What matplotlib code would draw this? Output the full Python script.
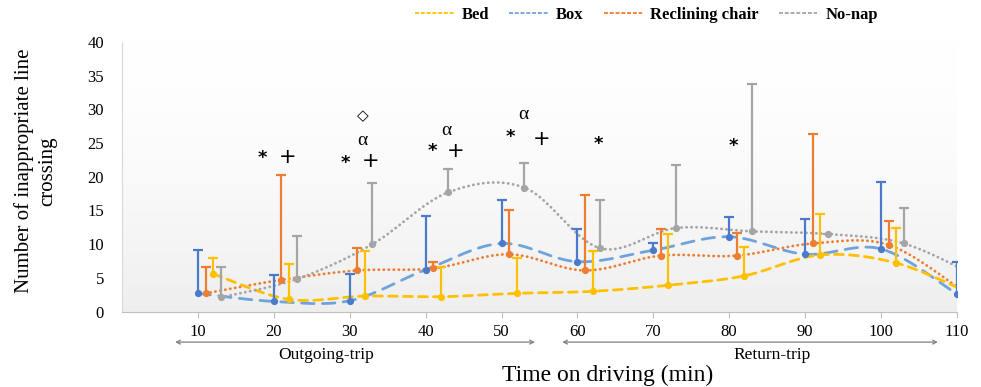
import numpy as np
import matplotlib
matplotlib.use('Agg')
import matplotlib.pyplot as plt
from matplotlib.lines import Line2D

plt.rcParams['font.family'] = ['Liberation Serif', 'DejaVu Sans']

# time points (min) and per-group horizontal offsets
times = [10, 20, 30, 40, 50, 60, 70, 80, 90, 100, 110]
labels = ['Bed', 'Box', 'Reclining chair', 'No-nap']
offsets = {'Box': 0, 'Reclining chair': 1, 'Bed': 2, 'No-nap': 3}

# mean values
box_mean = [2.7, 1.5, 1.6, 6.2, 10.1, 7.4, 9.1, 11.1, 8.5, 9.3, 2.6]
recl_mean = [2.7, 4.7, 6.1, 6.4, 8.5, 6.1, 8.3, 8.3, 10.1, 9.9, 2.9]
bed_mean = [5.6, 1.8, 2.3, 2.2, 2.7, 3.0, 3.9, 5.3, 8.4, 7.2, 2.6]
nonap_mean = [2.1, 4.8, 10.0, 17.7, 18.4, 9.4, 12.4, 11.9, 11.5, 10.1, 5.0]

# upper error (SD)
box_err = [6.4, 3.9, 3.9, 8.0, 6.5, 4.8, 1.0, 2.9, 5.2, 9.9, 4.8]
recl_err = [3.9, 15.5, 3.4, 0.9, 6.6, 11.2, 4.0, 3.4, 16.2, 3.6, 0.0]
bed_err = [2.4, 5.2, 6.7, 4.4, 5.3, 6.0, 7.6, 4.3, 6.1, 5.2, 0.0]
nonap_err = [4.5, 6.4, 9.1, 3.5, 3.6, 7.2, 9.4, 21.8, 0.0, 5.3, 0.0]

# significance marks: (text, x, y)
marks = [('*', 18.5, 22.8), ('+', 21.8, 23.0),
         ('*', 29.4, 22.1), ('+', 32.8, 22.4), ('α', 31.7, 25.4), ('◇', 31.7, 29.0),
         ('*', 40.9, 23.9), ('+', 43.9, 23.9), ('α', 42.7, 26.9),
         ('*', 51.2, 25.9), ('+', 55.3, 25.6), ('α', 52.9, 29.2),
         ('*', 62.8, 24.9), ('*', 80.6, 24.6)]

series = {
    'Bed': (bed_mean, bed_err),
    'Box': (box_mean, box_err),
    'Reclining chair': (recl_mean, recl_err),
    'No-nap': (nonap_mean, nonap_err),
}
line_col = {'Bed': '#FFC000', 'Box': '#6FA3DC', 'Reclining chair': '#ED7D31', 'No-nap': '#A5A5A5'}
bar_col = {'Bed': '#FFC000', 'Box': '#4A7BCB', 'Reclining chair': '#ED7D31', 'No-nap': '#A5A5A5'}
dash = {'Bed': (3.2, 2.2), 'Box': (4.5, 3.0), 'Reclining chair': (0.1, 1.7), 'No-nap': (0.1, 1.7)}


def smooth(x, y, n=30):
    # Excel-like smoothed line (Bezier through the points)
    x = np.asarray(x, float)
    y = np.asarray(y, float)
    px = np.r_[x[0], x, x[-1]]
    py = np.r_[y[0], y, y[-1]]
    xs, ys = [], []
    t = np.linspace(0, 1, n)
    for i in range(len(x) - 1):
        p0 = np.array([px[i], py[i]])
        p1 = np.array([px[i + 1], py[i + 1]])
        p2 = np.array([px[i + 2], py[i + 2]])
        p3 = np.array([px[i + 3], py[i + 3]])
        c1 = p1 + (p2 - p0) / 6
        c2 = p2 - (p3 - p1) / 6
        b = ((1 - t) ** 3)[:, None] * p1 + (3 * (1 - t) ** 2 * t)[:, None] * c1 \
            + (3 * (1 - t) * t ** 2)[:, None] * c2 + (t ** 3)[:, None] * p2
        xs.append(b[:, 0])
        ys.append(b[:, 1])
    return np.concatenate(xs), np.concatenate(ys)


fig = plt.figure(figsize=(9.81, 3.87), dpi=100)
ax = fig.add_axes([0.1244, 0.195, 0.851, 0.6964])
ax.set_xlim(0, 110)
ax.set_ylim(0, 40)

# light gradient background of the plot area (white on top, pale grey at the bottom)
frac = np.linspace(0, 1, 300)
grad = 1.0 - 0.065 * frac ** 1.6
img = np.repeat(grad[:, None, None], 3, axis=2)
ax.imshow(img, extent=[0, 110, 0, 40], aspect='auto', zorder=0, interpolation='bilinear')

handles = []
order = ['Box', 'Reclining chair', 'Bed', 'No-nap']
for name in order:
    mean, err = series[name]
    xs = np.array(times, float) + offsets[name]
    sx, sy = smooth(xs, mean)
    ax.plot(sx, sy, color=line_col[name], lw=2.0, dashes=dash[name],
            dash_capstyle='round', zorder=2)
    top = np.array(mean) + np.array(err)
    ax.vlines(xs, mean, top, color=bar_col[name], lw=1.6, zorder=3)
    ax.plot(xs, top, ls='none', marker='_', ms=7, mew=1.6, color=bar_col[name], zorder=3)
    ax.plot(xs, mean, ls='none', marker='o', ms=4.2, color=bar_col[name], zorder=4)

for name in labels:
    handles.append(Line2D([], [], color=line_col[name], lw=1.3, ls=(0, (2.2, 1.0))))

fig.legend(handles, labels, loc='center left', bbox_to_anchor=(0.408, 0.962),
           ncol=4, frameon=False, handlelength=2.3, handletextpad=0.5,
           columnspacing=1.2, prop={'family': 'Liberation Serif', 'weight': 'bold', 'size': 12})

for txt, x, y in marks:
    if txt == '*':
        ax.text(x, y, txt, fontsize=13, fontweight='bold', ha='center', va='center',
                family=['DejaVu Sans'])
    elif txt == '+':
        ax.text(x, y, txt, fontsize=15, ha='center', va='center', family=['DejaVu Sans'])
    elif txt == '◇':
        ax.text(x, y, txt, fontsize=11, fontweight='bold', ha='center', va='center',
                family=['DejaVu Sans'])
    else:
        ax.text(x, y, txt, fontsize=14, ha='center', va='center',
                family=['Liberation Serif', 'DejaVu Sans'])

ax.set_xticks(times)
ax.set_yticks(range(0, 41, 5))
ax.tick_params(axis='x', length=4, color='#BFBFBF', pad=5, labelsize=12)
ax.tick_params(axis='y', length=0, pad=13, labelsize=12)
for s in ['top', 'right']:
    ax.spines[s].set_visible(False)
ax.spines['left'].set_color('#D9D9D9')
ax.spines['bottom'].set_color('#BFBFBF')

# trip arrows below the axis
for x0, x1 in [(7.0, 54.4), (58.0, 107.5)]:
    ax.annotate('', xy=(x1, 0.116), xytext=(x0, 0.116),
                xycoords=('data', 'figure fraction'), textcoords=('data', 'figure fraction'),
                arrowprops=dict(arrowstyle='<->', color='#808080', lw=0.9, shrinkA=0, shrinkB=0,
                                mutation_scale=7), annotation_clip=False)
ax.annotate('Outgoing-trip', xy=(26.9, 0.083), xycoords=('data', 'figure fraction'),
            ha='center', va='center', fontsize=12.5, annotation_clip=False)
ax.annotate('Return-trip', xy=(85.6, 0.083), xycoords=('data', 'figure fraction'),
            ha='center', va='center', fontsize=12.5, annotation_clip=False)

fig.text(0.619, 0.031, 'Time on driving (min)', ha='center', va='center', fontsize=17)
fig.text(0.036, 0.558, 'Number of inappropriate line\ncrossing', rotation=90,
         ha='center', va='center', multialignment='center', fontsize=15, linespacing=1.3)

fig.savefig('out.png', dpi=100)
